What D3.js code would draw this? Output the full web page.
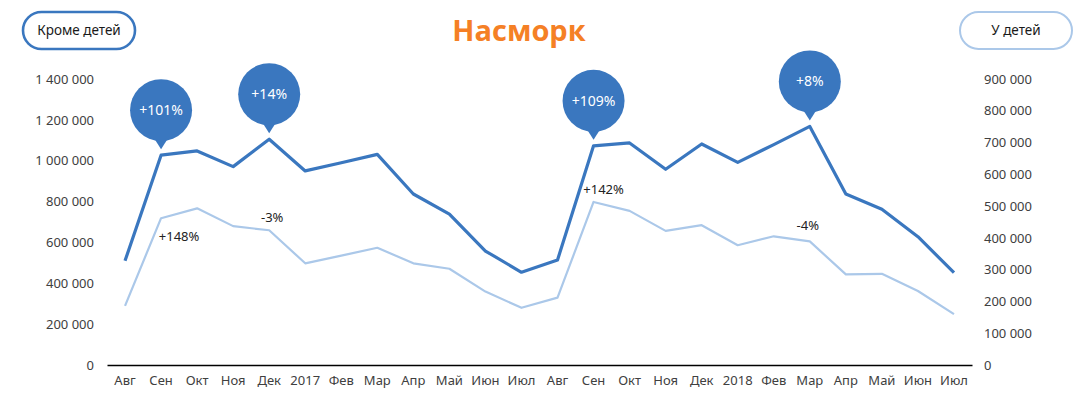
<!DOCTYPE html>
<html>
<head>
<meta charset="utf-8">
<script src="https://cdn.jsdelivr.net/npm/d3@7"></script>
<style>
  body { margin: 0; background: #fff; }
  svg { display: block; font-family: "Noto Sans", "Open Sans", sans-serif; }
</style>
</head>
<body>
<svg id="chart" width="1086" height="409"></svg>
<script>
(function() {
  'use strict';

  // months, Aug 2016 .. Jul 2018
  const months = ['Авг', 'Сен', 'Окт', 'Ноя', 'Дек', '2017', 'Фев', 'Мар', 'Апр', 'Май', 'Июн', 'Июл',
                  'Авг', 'Сен', 'Окт', 'Ноя', 'Дек', '2018', 'Фев', 'Мар', 'Апр', 'Май', 'Июн', 'Июл'];

  // "Кроме детей" (left axis)
  const adults = [510000, 1027000, 1048000, 971000, 1105000, 950000, 990000, 1031000, 837000, 739000, 558000, 454000,
                  514000, 1073000, 1087000, 958000, 1082000, 992000, 1079000, 1168000, 837000, 762000, 628000, 452000];

  // "У детей" (right axis)
  const children = [186000, 462000, 493000, 437000, 424000, 320000, 344000, 369000, 320000, 303000, 231000, 180000,
                    212000, 513000, 485000, 422000, 440000, 377000, 405000, 389000, 285000, 287000, 233000, 160000];

  const leftTicks = [0, 200000, 400000, 600000, 800000, 1000000, 1200000, 1400000];
  const rightTicks = [0, 100000, 200000, 300000, 400000, 500000, 600000, 700000, 800000, 900000];

  // callouts on the dark line
  const bubbleIdx = [1, 4, 13, 19];
  const bubbleText = ['+101%', '+14%', '+109%', '+8%'];

  // notes on the light line
  const noteIdx = [1, 4, 13, 19];
  const noteText = ['+148%', '-3%', '+142%', '-4%'];
  const noteOffset = [[18, 23], [3, -8], [10, -8], [-2, -11]]; // label placement relative to point

  const svg = d3.select('#chart');
  const left = 107, right = 972, top = 79, bottom = 365;

  const x = d3.scaleBand().domain(d3.range(months.length)).range([left, right]).padding(0);
  const cx = i => x(i) + x.bandwidth() / 2;
  const yL = d3.scaleLinear().domain([0, 1400000]).range([bottom, top]);
  const yR = d3.scaleLinear().domain([0, 900000]).range([bottom, top]);

  const fmt = d3.formatLocale({ decimal: ',', thousands: ' ', grouping: [3], currency: ['', ''] }).format(',');

  const dark = '#3a77bf';
  const light = '#abc8e9';
  const textColor = '#404040';

  // left axis
  const gL = svg.append('g')
    .attr('transform', `translate(${left - 13},0)`)
    .call(d3.axisLeft(yL).tickValues(leftTicks).tickFormat(fmt).tickSize(0).tickPadding(0));
  gL.select('.domain').remove();

  // right axis
  const gR = svg.append('g')
    .attr('transform', `translate(${right + 12},0)`)
    .call(d3.axisRight(yR).tickValues(rightTicks).tickFormat(fmt).tickSize(0).tickPadding(0));
  gR.select('.domain').remove();

  // bottom axis
  const gB = svg.append('g')
    .attr('transform', `translate(0,${bottom})`)
    .call(d3.axisBottom(x).tickFormat(i => months[i]).tickSize(0).tickSizeOuter(0).tickPadding(11));
  gB.select('.domain').attr('stroke', '#000').attr('stroke-width', 1.6);

  svg.selectAll('.tick text')
    .attr('fill', textColor)
    .style('font-size', '13px')
    .style('font-family', '"Noto Sans", sans-serif');

  // lines
  const lineL = d3.line().x((d, i) => cx(i)).y(d => yL(d));
  const lineR = d3.line().x((d, i) => cx(i)).y(d => yR(d));

  svg.append('path')
    .datum(children)
    .attr('d', lineR)
    .attr('fill', 'none')
    .attr('stroke', light)
    .attr('stroke-width', 2.2)
    .attr('stroke-linejoin', 'round');

  svg.append('path')
    .datum(adults)
    .attr('d', lineL)
    .attr('fill', 'none')
    .attr('stroke', dark)
    .attr('stroke-width', 3.2)
    .attr('stroke-linejoin', 'round');

  // notes
  svg.append('g').selectAll('text')
    .data(noteIdx)
    .join('text')
    .attr('x', (d, k) => cx(d) + noteOffset[k][0])
    .attr('y', (d, k) => yR(children[d]) + noteOffset[k][1])
    .attr('text-anchor', 'middle')
    .attr('fill', '#222')
    .style('font-size', '13px')
    .text((d, k) => noteText[k]);

  // bubbles
  const r = 31;
  const b = svg.append('g').selectAll('g')
    .data(bubbleIdx)
    .join('g')
    .attr('transform', d => `translate(${cx(d)},${yL(adults[d]) - 6})`);

  b.append('path')
    .attr('d', `M0,0 L-7,-11 L7,-11 Z`)
    .attr('fill', dark);

  b.append('circle')
    .attr('cx', 0)
    .attr('cy', -r - 8)
    .attr('r', r)
    .attr('fill', dark);

  b.append('text')
    .attr('x', 0)
    .attr('y', -r - 8)
    .attr('dy', '0.35em')
    .attr('text-anchor', 'middle')
    .attr('fill', '#fff')
    .style('font-size', '14px')
    .text((d, k) => bubbleText[k]);

  // legend buttons
  const buttons = [
    { label: 'Кроме детей', x: 23, stroke: dark, w: 2.6 },
    { label: 'У детей', x: 960, stroke: light, w: 2 }
  ];
  const btn = svg.append('g').selectAll('g')
    .data(buttons)
    .join('g')
    .attr('transform', d => `translate(${d.x},12)`);

  btn.append('rect')
    .attr('x', 0).attr('y', 0)
    .attr('width', 112).attr('height', 37)
    .attr('rx', 18.5)
    .attr('fill', '#fff')
    .attr('stroke', d => d.stroke)
    .attr('stroke-width', d => d.w);

  btn.append('text')
    .attr('x', 56).attr('y', 18.5)
    .attr('dy', '0.35em')
    .attr('text-anchor', 'middle')
    .attr('fill', '#1a1a1a')
    .style('font-size', '13.5px')
    .text(d => d.label);

  // title
  svg.append('text')
    .attr('x', 519)
    .attr('y', 31)
    .attr('dy', '0.35em')
    .attr('text-anchor', 'middle')
    .attr('fill', '#f58025')
    .style('font-family', '"Open Sans", sans-serif')
    .style('font-weight', 'bold')
    .style('font-size', '29px')
    .text('Насморк');
})();
</script>
</body>
</html>
